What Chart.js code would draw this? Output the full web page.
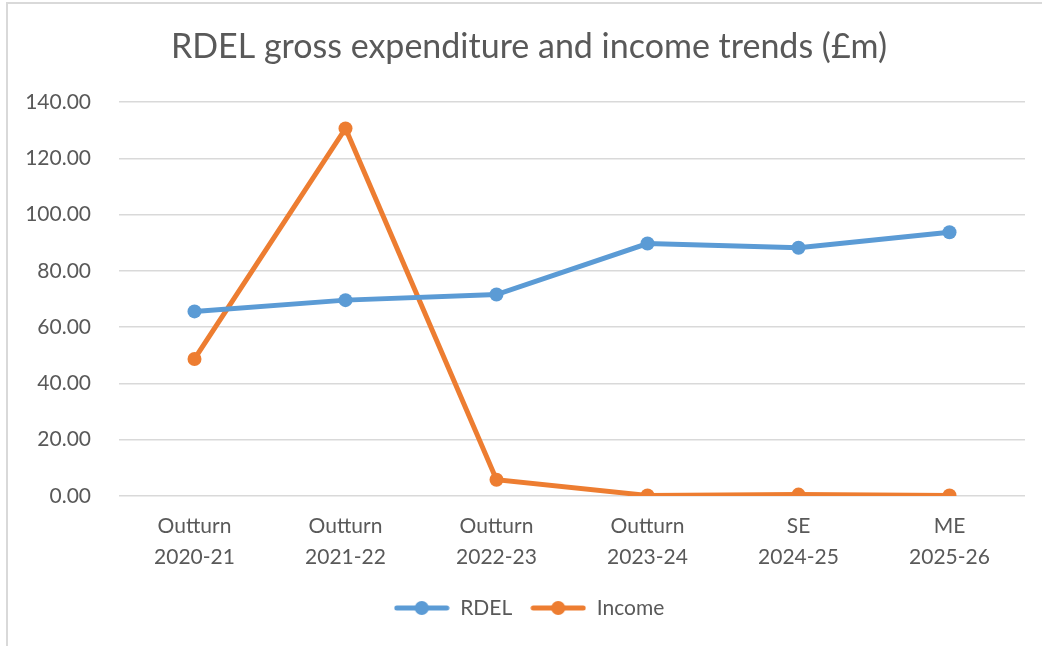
<!DOCTYPE html>
<html>
<head>
<meta charset="utf-8">
<script src="https://cdn.jsdelivr.net/npm/chart.js@4/dist/chart.umd.min.js"></script>
<style>
  html, body { margin: 0; padding: 0; background: #fff; }
  #wrap { position: relative; width: 1042px; height: 646px; }
</style>
</head>
<body>
<div id="wrap"><canvas id="c" width="1042" height="646"></canvas></div>
<script>
const categories = [
  ["Outturn", "2020-21"],
  ["Outturn", "2021-22"],
  ["Outturn", "2022-23"],
  ["Outturn", "2023-24"],
  ["SE", "2024-25"],
  ["ME", "2025-26"]
];
const rdel = [65.6, 69.6, 71.6, 89.7, 88.2, 93.7];
const income = [48.7, 130.6, 5.8, 0.2, 0.5, 0.2];
const seriesNames = ["RDEL", "Income"];
const chartTitle = "RDEL gross expenditure and income trends (£m)";

const BLUE = "#5b9bd5";
const ORANGE = "#ed7d31";
const TEXT = "#595959";
const GRID = "#d9d9d9";
const FONT = "Lato, 'Open Sans', sans-serif";

function legendMarker(color) {
  const c = document.createElement("canvas");
  c.width = 56; c.height = 16;
  const g = c.getContext("2d");
  g.strokeStyle = color; g.lineWidth = 5; g.lineCap = "round";
  g.beginPath(); g.moveTo(3, 8); g.lineTo(53, 8); g.stroke();
  g.fillStyle = color;
  g.beginPath(); g.arc(28, 8, 7, 0, Math.PI * 2); g.fill();
  return c;
}
const markers = [legendMarker(BLUE), legendMarker(ORANGE)];

const framePlugin = {
  id: "frame",
  beforeDraw(chart) {
    const ctx = chart.ctx;
    ctx.save();
    ctx.fillStyle = "#fff";
    ctx.fillRect(0, 0, chart.width, chart.height);
    ctx.strokeStyle = GRID;
    ctx.lineWidth = 2;
    ctx.beginPath();
    ctx.moveTo(7, chart.height);
    ctx.lineTo(7, 3);
    ctx.lineTo(chart.width, 3);
    ctx.stroke();
    ctx.restore();
  }
};

// centre title and legend over the frame rather than the padded area
const centerPlugin = {
  id: "centerShift",
  afterLayout(chart) {
    if (chart.titleBlock) chart.titleBlock.left += 23;
    if (chart.legend) chart.legend.left += 23;
  }
};

new Chart(document.getElementById("c"), {
  type: "line",
  data: {
    labels: categories,
    datasets: [
      {
        label: seriesNames[0], data: rdel,
        borderColor: BLUE, backgroundColor: BLUE,
        borderWidth: 5, pointRadius: 7, pointHoverRadius: 7,
        pointBackgroundColor: BLUE, pointBorderWidth: 0, tension: 0,
        pointStyle: "circle"
      },
      {
        label: seriesNames[1], data: income,
        borderColor: ORANGE, backgroundColor: ORANGE,
        borderWidth: 5, pointRadius: 7, pointHoverRadius: 7,
        pointBackgroundColor: ORANGE, pointBorderWidth: 0, tension: 0,
        pointStyle: "circle"
      }
    ]
  },
  options: {
    responsive: false,
    animation: false,
    layout: { padding: { left: 10, right: 17, top: 0, bottom: 17.5 } },
    plugins: {
      title: {
        display: true,
        text: chartTitle,
        color: TEXT,
        font: { family: FONT, size: 34, weight: "normal", lineHeight: 1.2 },
        padding: { top: 26.6, bottom: 34.6 }
      },
      legend: {
        position: "bottom",
        labels: {
          color: TEXT,
          font: { family: FONT, size: 21 },
          usePointStyle: true,
          pointStyleWidth: 56,
          padding: 18,
          generateLabels(chart) {
            return chart.data.datasets.map((ds, i) => ({
              text: ds.label,
              fillStyle: ds.borderColor,
              strokeStyle: ds.borderColor,
              lineWidth: 0,
              pointStyle: markers[i],
              fontColor: TEXT,
              datasetIndex: i,
              hidden: false
            }));
          }
        }
      },
      tooltip: { enabled: false }
    },
    scales: {
      x: {
        offset: true,
        grid: { display: false, drawTicks: false },
        border: { display: false },
        ticks: {
          color: TEXT,
          font: { family: FONT, size: 21, lineHeight: 31 / 21 },
          padding: 15,
          maxRotation: 0,
          autoSkip: false
        },
        afterFit(scale) { scale.height = 83.5; }
      },
      y: {
        min: 0, max: 140,
        grid: { color: GRID, lineWidth: 1.5, drawTicks: false },
        border: { display: false },
        ticks: {
          stepSize: 20,
          color: TEXT,
          font: { family: FONT, size: 21 },
          padding: 28,
          callback: (v) => Number(v).toFixed(2)
        },
        afterFit(scale) { scale.width = 109; }
      }
    }
  },
  plugins: [framePlugin, centerPlugin]
});
</script>
</body>
</html>
